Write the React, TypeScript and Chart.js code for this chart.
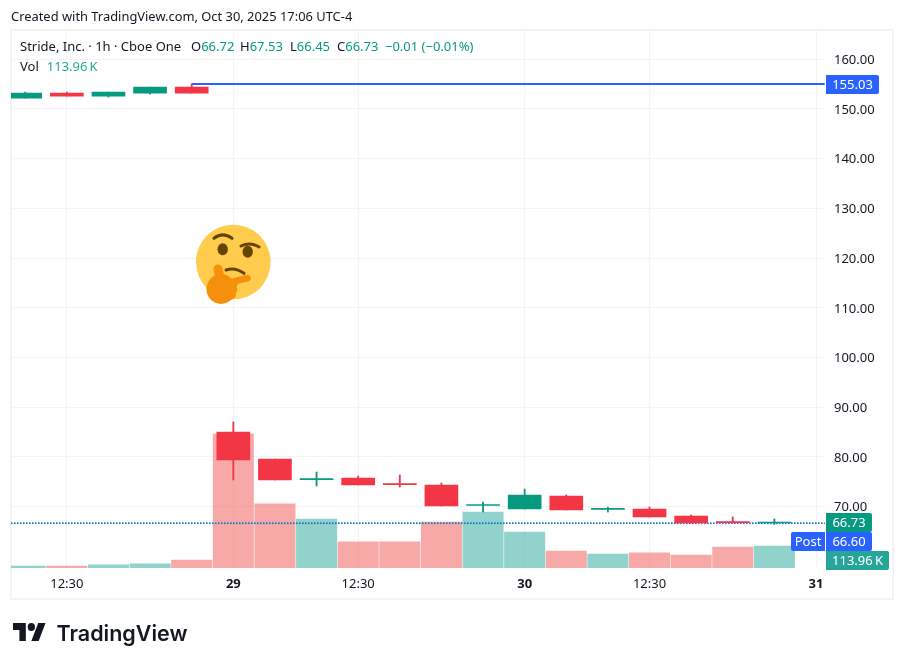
import { useEffect, useRef } from "react"
import { Chart, registerables } from "chart.js"

Chart.register(...registerables)

const FONT = '"Noto Sans", sans-serif'
const GREEN = "#089981"
const RED = "#f23645"
const BLUE = "#2962ff"
const VOL_GREEN = "rgba(38, 166, 154, 0.5)"
const VOL_RED = "rgba(239, 83, 80, 0.5)"
const GRID = "#f3f3f3"

// hourly bars, oldest first
const opens = [152.2, 153.2, 152.6, 153.2, 154.4, 85.03, 79.6, 75.45, 75.77, 74.55, 74.37, 70.25, 69.54, 72.15, 69.45, 69.54, 68.13, 66.9, 66.72]
const closes = [153.2, 152.6, 153.4, 154.4, 153.2, 79.39, 75.37, 75.55, 74.37, 74.45, 70.14, 70.35, 72.35, 69.34, 69.55, 67.93, 66.72, 66.8, 66.73]
const highs = [153.4, 153.4, 153.4, 154.4, 155.03, 87.04, 79.6, 76.98, 76.18, 76.38, 74.77, 70.95, 73.56, 72.35, 69.88, 69.94, 68.33, 67.93, 67.53]
const lows = [152.2, 152.6, 152.4, 153.0, 153.2, 75.37, 75.37, 74.16, 74.37, 73.96, 70.14, 68.93, 69.54, 69.34, 68.93, 67.93, 66.72, 66.75, 66.45]
const volumes = [10, 10, 16, 21, 41, 694, 332, 254, 135, 135, 238, 290, 186, 88, 72, 78, 67, 109, 113.96]

const priceTicks = [160, 150, 140, 130, 120, 110, 100, 90, 80, 70]
const timeTickPositions = [1, 5, 8, 12, 15, 19]
const timeTickLabels = ["12:30", "29", "12:30", "30", "12:30", "31"]
const dayLabels = ["29", "30", "31"]

const highLine = 155.03
const lastClose = 66.73
const postPrice = 66.6
const lastVolume = "113.96\u202fK"

const X_MIN = -0.342
const X_MAX = 19
const LINE_END = 19.21

const priceTags = {
  id: "priceTags",
  afterDraw(chart: any) {
    const { ctx, scales } = chart
    const left = 826
    const tag = (x: number, top: number, w: number, fill: string, text: string, radius: any) => {
      ctx.fillStyle = fill
      ctx.beginPath()
      ctx.roundRect(x, top, w, 19, radius)
      ctx.fill()
      ctx.fillStyle = "#ffffff"
      ctx.fillText(text, x + w / 2, top + 10)
    }
    ctx.save()
    ctx.font = `13px ${FONT}`
    ctx.textAlign = "center"
    ctx.textBaseline = "middle"
    tag(left, Math.round(scales.y.getPixelForValue(highLine)) - 9, 53, BLUE, highLine.toFixed(2), [0, 2, 2, 0])
    const closeTop = Math.round(scales.y.getPixelForValue(lastClose)) - 10
    tag(left, closeTop, 46, GREEN, lastClose.toFixed(2), [0, 2, 2, 0])
    tag(left, closeTop + 19, 46, BLUE, postPrice.toFixed(2), [0, 2, 2, 0])
    tag(left - 35, closeTop + 19, 34, BLUE, "Post", [2, 0, 0, 2])
    tag(left, closeTop + 38, 63, "#26a69a", lastVolume, [0, 2, 2, 0])
    ctx.restore()
  },
}

function ThinkingFace() {
  return (
    <svg width="904" height="665" style={{ position: "absolute", left: 0, top: 0, pointerEvents: "none" }}>
      <circle cx="233.3" cy="262" r="37.3" fill="#ffcc4d" />
      <g fill="none" stroke="#664500" strokeWidth="3" strokeLinecap="round">
        <path d="M214 238.3Q222.7 231.5 232 238.3" />
        <path d="M241 246Q250 241.5 259 247" />
        <path d="M226 270Q235 266.7 244 273.3" />
      </g>
      <ellipse cx="222.7" cy="249.3" rx="5.2" ry="6" fill="#664500" />
      <ellipse cx="247.7" cy="251.7" rx="5.2" ry="6" fill="#664500" />
      <g fill="none" stroke="#f4900c" strokeLinecap="round">
        <path d="M218 269L221 284" strokeWidth="9" />
        <path d="M224 284L247.5 278" strokeWidth="6.5" />
      </g>
      <ellipse cx="221" cy="289" rx="14.5" ry="15" fill="#f4900c" />
      <path d="M224 282L236 281Q238.5 284 236.5 287Q238.5 290 236 293Q236.5 298 231 300L222 300Z" fill="#f4900c" />
    </svg>
  )
}

function Logo() {
  return (
    <svg width="33" height="18" viewBox="0 4 36 18" preserveAspectRatio="none" style={{ position: "absolute", left: 13, top: 623 }}>
      <path d="M14 22H7V11H0V4h14v18zM28 22h-8l7.5-18h8L28 22z" fill="#131722" />
      <circle cx="20" cy="8" r="4" fill="#131722" />
    </svg>
  )
}

const textAt = (left: number, top: number, size: number): React.CSSProperties => ({
  position: "absolute",
  left,
  top,
  fontSize: size,
  lineHeight: "18px",
  whiteSpace: "nowrap",
  color: "#131722",
  fontFamily: FONT,
})

export default function App() {
  const chartRef = useRef<HTMLCanvasElement>(null)
  const chartInstance = useRef<Chart | null>(null)

  useEffect(() => {
    if (!chartRef.current) return

    const ctx = chartRef.current.getContext("2d")
    if (!ctx) return

    const rising = opens.map((o, i) => closes[i] >= o)

    chartInstance.current = new Chart(ctx, {
      type: "bar",
      data: {
        datasets: [
          {
            label: "Vol",
            yAxisID: "vol",
            order: 5,
            grouped: false,
            barThickness: 40.4,
            data: volumes.map((v, i) => ({ x: i, y: v })),
            backgroundColor: rising.map((up) => (up ? VOL_GREEN : VOL_RED)),
          },
          {
            type: "line",
            label: "Close",
            order: 4,
            clip: false,
            data: [{ x: X_MIN, y: lastClose }, { x: LINE_END, y: lastClose }],
            borderColor: GREEN,
            borderWidth: 1.5,
            borderDash: [1.5, 1.5],
            pointRadius: 0,
          },
          {
            type: "line",
            label: "Post",
            order: 3,
            clip: false,
            data: [{ x: X_MIN, y: postPrice }, { x: LINE_END, y: postPrice }],
            borderColor: BLUE,
            borderWidth: 1,
            borderDash: [1.5, 1.5],
            pointRadius: 0,
          },
          {
            type: "line",
            label: "High",
            order: 2,
            clip: false,
            data: [{ x: 4, y: highLine }, { x: LINE_END, y: highLine }],
            borderColor: BLUE,
            borderWidth: 2,
            pointRadius: 0,
          },
          {
            label: "Wick",
            order: 1,
            grouped: false,
            barThickness: 1.2,
            data: highs.map((h, i) => ({ x: i, y: [lows[i], h] })),
            backgroundColor: rising.map((up) => (up ? GREEN : RED)),
          },
          {
            label: "Body",
            order: 0,
            grouped: false,
            barThickness: 33,
            minBarLength: 1,
            data: opens.map((o, i) => ({ x: i, y: [o, closes[i]] })),
            backgroundColor: rising.map((up) => (up ? GREEN : RED)),
          },
        ] as any,
      },
      options: {
        responsive: false,
        animation: false,
        layout: { padding: { left: 11, top: 30, right: 11, bottom: 66 } },
        plugins: { legend: { display: false }, tooltip: { enabled: false } },
        scales: {
          x: {
            type: "linear",
            offset: false,
            min: X_MIN,
            max: X_MAX,
            afterBuildTicks: (scale: any) => {
              scale.ticks = timeTickPositions.map((value) => ({ value }))
            },
            afterFit: (scale: any) => {
              scale.height = 31
            },
            border: { display: false },
            grid: { color: GRID, drawTicks: false, offset: false },
            ticks: {
              autoSkip: false,
              maxRotation: 0,
              padding: 8,
              color: "#131722",
              font: (c: any) => ({
                family: FONT,
                size: 13,
                weight: dayLabels.includes(timeTickLabels[timeTickPositions.indexOf(c.tick?.value)]) ? "bold" : "normal",
              }),
              callback: (value: any) => timeTickLabels[timeTickPositions.indexOf(value)],
            },
          },
          y: {
            position: "right",
            min: 57.67,
            max: 165.89,
            afterBuildTicks: (scale: any) => {
              scale.ticks = priceTicks.map((value) => ({ value }))
            },
            afterFit: (scale: any) => {
              scale.width = 77
            },
            border: { display: false },
            grid: { color: GRID, tickLength: 9, tickColor: GRID },
            ticks: {
              padding: 9,
              color: "#131722",
              // the blank first line nudges the label 1px down
              font: { family: FONT, size: 13, lineHeight: "2px" },
              callback: (value: any) => ["", Number(value).toFixed(2)],
            },
          },
          vol: { display: false, min: 0, max: 2787 },
        },
      } as any,
      plugins: [priceTags],
    })

    return () => {
      if (chartInstance.current) {
        chartInstance.current.destroy()
      }
    }
  }, [])

  const value = { color: GREEN }

  return (
    <div style={{ position: "absolute", left: 0, top: 0, width: 904, height: 665, background: "#ffffff", overflow: "hidden" }}>
      <div style={{ position: "absolute", left: 10, top: 29, width: 880, height: 567, border: `2px solid ${GRID}` }} />
      <canvas ref={chartRef} width={904} height={665} style={{ position: "absolute", left: 0, top: 0 }} />
      <ThinkingFace />
      <div style={textAt(11, 7, 12.9)}>Created with TradingView.com, Oct 30, 2025 17:06 UTC-4</div>
      <div style={textAt(20, 37, 13)}>Stride, Inc. · 1h · Cboe One</div>
      <div style={textAt(191, 37, 13)}>O<span style={value}>66.72</span></div>
      <div style={textAt(240, 37, 13)}>H<span style={value}>67.53</span></div>
      <div style={textAt(290, 37, 13)}>L<span style={value}>66.45</span></div>
      <div style={textAt(337, 37, 13)}>C<span style={value}>66.73</span></div>
      <div style={{ ...textAt(385, 37, 13), ...value }}>−0.01 (−0.01%)</div>
      <div style={textAt(20, 57, 13)}>
        Vol<span style={{ marginLeft: 8, color: "#26a69a" }}>{lastVolume}</span>
      </div>
      <Logo />
      <div style={{ ...textAt(56.5, 619, 21.5), fontFamily: "Inter, sans-serif", fontWeight: 600, lineHeight: "28px" }}>TradingView</div>
    </div>
  )
}
